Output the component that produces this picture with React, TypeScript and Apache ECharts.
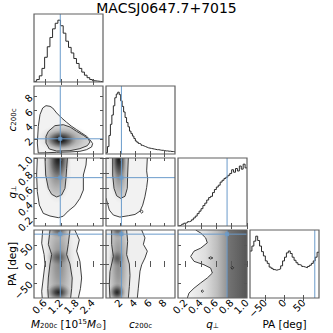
import React, { useEffect, useRef } from 'react';
import * as echarts from 'echarts';

const FONT = 'DejaVu Sans';
const TITLE = 'MACSJ0647.7+7015';

// parameter order: M200c, c200c, q_perp, PA
const AXIS_MIN = [0.18, 0, 0.1, -90];
const AXIS_MAX = [2.78, 9.4, 1.0, 90];
const TICKS = [
  [0.6, 1.2, 1.8, 2.4],
  [2, 4, 6, 8],
  [0.2, 0.4, 0.6, 0.8, 1.0],
  [-50, 0, 50],
];
const TRUTH = [1.17, 2.1, 0.74, 79];
const AXIS_NAMES = [
  '{i|M}{s|200c} [10{p|15}{i|M}{s|⊙}]',
  '{i|c}{s|200c}',
  '{i|q}{s|⊥}',
  'PA [deg]',
];

// 1D marginal histograms (relative counts, peak = 100)
const HIST_START = [0.18, 0, 0.1, -90];
const HIST_WIDTH = [0.1, 0.2, 0.025, 5];
const M_HIST = [1, 4, 10, 22, 40, 57, 72, 86, 95, 100, 91, 79, 66, 56, 47, 38, 30, 22, 16, 11, 7, 4, 2, 1.5, 1, 0.5];
const C_HIST = [2, 12, 30, 48, 63, 78, 91, 97, 100, 96, 86, 77, 68, 59, 51, 44, 37, 33, 29, 25, 21, 19, 17, 16, 14, 13, 12, 11, 10, 9.5, 9, 8.5, 8, 7.5, 7, 7, 6.5, 6, 6, 5.5, 5, 5, 4.5, 4.5, 4, 4, 3.5];
const Q_HIST = [0.5, 1.5, 3, 4.5, 5.5, 7, 8, 10, 13, 16, 20, 24, 28, 33, 37, 42, 46, 48, 54, 59, 63, 66, 71, 74, 77, 79, 82, 85, 91, 87, 93, 89, 97, 92, 100, 94];
const PA_HIST = [76, 84, 92, 100, 93, 84, 75, 68, 60, 56, 50, 48, 46, 45, 46, 47, 52, 60, 66, 73, 76, 72, 66, 61, 57, 54, 53, 51, 50, 49, 51, 53, 56, 60, 66, 74];
const HISTS = [M_HIST, C_HIST, Q_HIST, PA_HIST];

// 2D panels: contours [x, y]; blobs [cx, cy, rx, ry, darkness]
const MC_OUTER = [[0.34, 0.14], [0.305, 1.52], [0.343, 3.83], [0.406, 5.44], [0.507, 6.36], [0.632, 6.68], [0.783, 6.59], [0.883, 6.36], [1.034, 5.67], [1.222, 4.98], [1.41, 4.38], [1.598, 3.82], [1.787, 3.36], [1.975, 2.9], [2.163, 2.44], [2.29, 1.98], [2.39, 1.43], [2.35, 0.97], [2.16, 0.6], [1.91, 0.37], [1.535, 0.28], [1.03, 0.23], [0.59, 0.16]];
const MC_INNER = [[0.632, 2.44], [0.72, 3.13], [0.97, 3.92], [1.285, 4.05], [1.54, 3.73], [1.787, 3.13], [2.04, 2.58], [2.22, 2.12], [2.29, 1.66], [2.19, 1.15], [1.91, 0.74], [1.535, 0.46], [1.034, 0.41], [0.757, 0.69], [0.632, 1.52]];
const MC_BLOBS = [[1.3, 2.1, 1.0, 2.0, 0.4], [1.18, 1.95, 0.6, 1.35, 0.9]];

const MQ_OUTER = [[0.305, 1.0], [0.28, 0.775], [0.305, 0.554], [0.38, 0.378], [0.53, 0.267], [0.783, 0.232], [1.1, 0.21], [1.285, 0.23], [1.47, 0.298], [1.72, 0.369], [1.91, 0.466], [2.04, 0.576], [2.04, 0.775], [2.14, 0.907], [2.16, 1.0]];
const MQ_INNER = [[0.594, 1.0], [0.62, 0.775], [0.72, 0.598], [0.846, 0.519], [1.034, 0.484], [1.22, 0.51], [1.347, 0.598], [1.385, 0.73], [1.41, 0.863], [1.44, 1.0]];
const MQ_BLOBS = [[1.05, 0.85, 0.55, 0.45, 0.4], [1.1, 1.0, 0.45, 0.3, 0.85]];

const CQ_OUTER = [[0, 0.47], [0.45, 0.311], [1.0, 0.245], [1.9, 0.218], [3.04, 0.236], [3.95, 0.253], [4.63, 0.297], [5.0, 0.376], [5.3, 0.486], [5.54, 0.61], [5.68, 0.72], [5.54, 0.83], [5.63, 1.0]];
const CQ_INNER = [[0.91, 1.0], [0.91, 0.775], [1.09, 0.598], [1.45, 0.5], [2.0, 0.466], [2.59, 0.493], [2.9, 0.598], [2.95, 0.775], [3.04, 1.0]];
const CQ_ISLAND = [[4.65, 0.29], [4.86, 0.31], [5.07, 0.29], [4.86, 0.27]];
const CQ_BLOBS = [[1.8, 0.85, 1.4, 0.45, 0.4], [1.75, 1.0, 1.1, 0.3, 0.85]];

const MPA_OUTER_L = [[0.507, 90], [0.47, 55], [0.56, 25], [0.594, 0], [0.53, -37], [0.47, -72], [0.49, -90]];
const MPA_INNER_L = [[0.783, 90], [0.72, 52], [0.846, 25], [0.783, 0], [0.72, -37], [0.7, -65], [0.72, -90]];
const MPA_INNER_R = [[1.536, 90], [1.47, 52], [1.41, 25], [1.536, 0], [1.62, -37], [1.6, -65], [1.56, -90]];
const MPA_OUTER_R = [[1.72, 90], [1.887, 64], [1.787, 34], [1.91, 7], [1.975, -37], [1.93, -65], [1.85, -90]];
const MPA_BLOBS = [[1.12, 0, 0.6, 150, 0.35], [1.1, -75, 0.5, 24, 0.8], [1.1, 18, 0.45, 22, 0.4], [1.1, 90, 0.45, 22, 0.5]];

const CPA_INNER_L = [[0.77, 90], [0.77, 52], [1.0, 20], [0.54, -20], [0.45, -55], [0.54, -90]];
const CPA_INNER_R = [[2.81, 90], [2.95, 60], [2.81, 25], [3.18, 0], [3.27, -30], [3.18, -60], [3.04, -90]];
const CPA_OUTER_R = [[4.86, 90], [5.31, 69], [5.09, 52], [5.63, 34], [5.31, 16], [4.86, -2], [4.63, -19], [4.54, -37], [4.4, -64], [4.27, -90]];
const CPA_BLOBS = [[1.7, 0, 1.6, 150, 0.35], [1.5, -75, 1.2, 24, 0.8], [1.5, 15, 1.1, 22, 0.4], [1.6, 90, 1.2, 22, 0.5]];

const QPA_OUTER = [[0.33, 90], [0.396, 82], [0.461, 69], [0.482, 56], [0.396, 42], [0.309, 34], [0.265, 20], [0.309, 7], [0.439, -2], [0.526, -11], [0.548, -24], [0.482, -37], [0.396, -50], [0.309, -64], [0.243, -77], [0.222, -90]];
const QPA_LOOP_A = [[0.5, 16], [0.526, 19], [0.555, 16], [0.526, 13]];
const QPA_LOOP_B = [[0.79, -10], [0.808, -6], [0.826, -10], [0.808, -14]];
const QPA_LOOP_C = [[0.4, -72], [0.417, -69], [0.434, -72], [0.417, -75]];
const QPA_DARK = [[0.74, 90], [1.0, 90], [1.0, -90], [0.74, -90]];

// layout of the 4x4 corner grid (pixels)
const COL_LEFT = [34, 106, 178, 250];
const ROW_TOP = [14, 86, 158, 230];
const CELL_W = 69;
const CELL_H = 68;
const TRUTH_COLOR = '#6a9bcb';
const LINE_COLOR = '#2a2a2a';

const LABEL_FMT = [
  (v: number) => v.toFixed(1),
  (v: number) => String(v),
  (v: number) => v.toFixed(1),
  (v: number) => (v < 0 ? '\u2212' + Math.abs(v) : String(v)),
];

const rev = (a: number[][]) => a.slice().reverse();

const blobLayers = (blobs: number[][]) => blobs.map((b) => ({ kind: 'blob', b }));

const LAYERS: Record<string, any[]> = {
  '1-0': [
    { kind: 'fill', pts: MC_OUTER, fill: '#f2f2f2' },
    { kind: 'fill', pts: MC_INNER, fill: '#d6d6d6' },
    ...blobLayers(MC_BLOBS),
    { kind: 'line', pts: MC_OUTER, closed: true },
    { kind: 'line', pts: MC_INNER, closed: true },
  ],
  '2-0': [
    { kind: 'fill', pts: MQ_OUTER, fill: '#f2f2f2' },
    { kind: 'fill', pts: MQ_INNER, fill: '#d2d2d2' },
    ...blobLayers(MQ_BLOBS),
    { kind: 'line', pts: MQ_OUTER },
    { kind: 'line', pts: MQ_INNER },
  ],
  '2-1': [
    { kind: 'fill', pts: [[0, 1.0], ...CQ_OUTER], fill: '#f2f2f2' },
    { kind: 'fill', pts: CQ_INNER, fill: '#d2d2d2' },
    ...blobLayers(CQ_BLOBS),
    { kind: 'line', pts: CQ_OUTER },
    { kind: 'line', pts: CQ_INNER },
    { kind: 'line', pts: CQ_ISLAND, closed: true },
  ],
  '3-0': [
    { kind: 'fill', pts: [...MPA_OUTER_L, ...rev(MPA_OUTER_R)], fill: '#efefef' },
    { kind: 'fill', pts: [...MPA_INNER_L, ...rev(MPA_INNER_R)], fill: '#d4d4d4' },
    ...blobLayers(MPA_BLOBS),
    { kind: 'line', pts: MPA_OUTER_L },
    { kind: 'line', pts: MPA_INNER_L },
    { kind: 'line', pts: MPA_INNER_R },
    { kind: 'line', pts: MPA_OUTER_R },
  ],
  '3-1': [
    { kind: 'fill', pts: [[0, 90], [0, -90], ...rev(CPA_OUTER_R)], fill: '#efefef' },
    { kind: 'fill', pts: [...CPA_INNER_L, ...rev(CPA_INNER_R)], fill: '#d4d4d4' },
    ...blobLayers(CPA_BLOBS),
    { kind: 'line', pts: CPA_INNER_L },
    { kind: 'line', pts: CPA_INNER_R },
    { kind: 'line', pts: CPA_OUTER_R },
  ],
  '3-2': [
    {
      kind: 'fill',
      pts: [...QPA_OUTER, [1.0, -90], [1.0, 90]],
      fill: {
        type: 'linear', x: 0, y: 0, x2: 1, y2: 0,
        colorStops: [
          { offset: 0, color: '#f4f4f4' },
          { offset: 0.3, color: '#dedede' },
          { offset: 0.5, color: '#bdbdbd' },
          { offset: 0.64, color: '#9a9a9a' },
          { offset: 1, color: '#6e6e6e' },
        ],
      },
    },
    { kind: 'fill', pts: QPA_DARK, fill: 'rgba(0,0,0,0.22)' },
    { kind: 'line', pts: QPA_OUTER },
    { kind: 'line', pts: QPA_LOOP_A, closed: true },
    { kind: 'line', pts: QPA_LOOP_B, closed: true },
    { kind: 'line', pts: QPA_LOOP_C, closed: true },
  ],
};

function blobStops(a: number) {
  return [
    { offset: 0, color: `rgba(0,0,0,${a})` },
    { offset: 0.25, color: `rgba(0,0,0,${(a * 0.78).toFixed(3)})` },
    { offset: 0.55, color: `rgba(0,0,0,${(a * 0.38).toFixed(3)})` },
    { offset: 0.8, color: `rgba(0,0,0,${(a * 0.1).toFixed(3)})` },
    { offset: 1, color: 'rgba(0,0,0,0)' },
  ];
}

function makeRender(layers: any[]) {
  return (params: any, api: any) => {
    const L = layers[params.dataIndex];
    if (!L) return null;
    if (L.kind === 'fill') {
      const pts = L.pts.map((p: number[]) => api.coord(p));
      return { type: 'polygon', silent: true, shape: { points: pts }, style: { fill: L.fill, stroke: null } };
    }
    if (L.kind === 'line') {
      const pts = L.pts.map((p: number[]) => api.coord(p));
      return {
        type: L.closed ? 'polygon' : 'polyline',
        silent: true,
        shape: { points: pts },
        style: { fill: null, stroke: LINE_COLOR, lineWidth: 0.9 },
      };
    }
    const [cx, cy, rx, ry, a] = L.b;
    const c = api.coord([cx, cy]);
    const s = api.size([rx, ry]);
    return {
      type: 'circle',
      silent: true,
      x: c[0],
      y: c[1],
      scaleX: s[0] / 10,
      scaleY: s[1] / 10,
      shape: { cx: 0, cy: 0, r: 10 },
      style: { fill: { type: 'radial', x: 0.5, y: 0.5, r: 0.5, colorStops: blobStops(a) } },
    };
  };
}

const NAME_STYLE = {
  fontFamily: FONT,
  fontSize: 10.5,
  color: '#000',
  rich: {
    i: { fontFamily: FONT, fontSize: 10.5, fontStyle: 'italic', color: '#000' },
    s: { fontFamily: FONT, fontSize: 7, verticalAlign: 'bottom', color: '#000' },
    p: { fontFamily: FONT, fontSize: 7, verticalAlign: 'top', color: '#000' },
  },
};

function buildOption() {
  const grids: any[] = [];
  const xAxes: any[] = [];
  const yAxes: any[] = [];
  const series: any[] = [];
  const panels: { i: number; j: number }[] = [];
  for (let i = 0; i < 4; i++) for (let j = 0; j <= i; j++) panels.push({ i, j });

  const tick = (vals: number[]) => ({
    show: true, inside: true, length: 3, customValues: vals, lineStyle: { color: '#555', width: 1 },
  });

  panels.forEach(({ i, j }, g) => {
    const diag = i === j;
    grids.push({
      left: COL_LEFT[j], top: ROW_TOP[i], width: CELL_W, height: CELL_H,
      show: true, borderColor: '#606060', borderWidth: 1.2, backgroundColor: 'transparent',
      z: 10, containLabel: false, outerBoundsMode: 'none',
    });
    xAxes.push({
      type: 'value', gridIndex: g, position: 'bottom', min: AXIS_MIN[j], max: AXIS_MAX[j], z: 10,
      axisLine: { show: false }, splitLine: { show: false },
      axisTick: tick(TICKS[j]),
      axisLabel: {
        show: i === 3, customValues: TICKS[j], rotate: 45, margin: 3, fontSize: 10,
        color: '#000', fontFamily: FONT, formatter: LABEL_FMT[j],
      },
      name: i === 3 ? AXIS_NAMES[j] : '', nameLocation: 'middle', nameGap: 20, nameMoveOverlap: false,
      nameTextStyle: NAME_STYLE,
    });
    xAxes.push({
      type: 'value', gridIndex: g, position: 'top', min: AXIS_MIN[j], max: AXIS_MAX[j], z: 10,
      axisLine: { show: false }, splitLine: { show: false }, axisTick: tick(TICKS[j]), axisLabel: { show: false },
    });
    if (diag) {
      yAxes.push({ type: 'value', gridIndex: g, min: 0, max: 110, show: false });
      yAxes.push({ type: 'value', gridIndex: g, min: 0, max: 110, show: false, position: 'right' });
    } else {
      yAxes.push({
        type: 'value', gridIndex: g, position: 'left', min: AXIS_MIN[i], max: AXIS_MAX[i], z: 10,
        axisLine: { show: false }, splitLine: { show: false }, axisTick: tick(TICKS[i]),
        axisLabel: {
          show: j === 0, customValues: TICKS[i], rotate: 45, margin: 3, fontSize: 10,
          color: '#000', fontFamily: FONT, formatter: LABEL_FMT[i],
        },
        name: j === 0 ? AXIS_NAMES[i] : '', nameLocation: 'middle', nameGap: 17, nameRotate: 90,
        nameMoveOverlap: false, nameTextStyle: NAME_STYLE,
      });
      yAxes.push({
        type: 'value', gridIndex: g, position: 'right', min: AXIS_MIN[i], max: AXIS_MAX[i], z: 10,
        axisLine: { show: false }, splitLine: { show: false }, axisTick: tick(TICKS[i]), axisLabel: { show: false },
      });
    }
    const xi = 2 * g;
    const yi = 2 * g;
    if (diag) {
      const h = HISTS[j];
      const data: number[][] = [];
      h.forEach((v, k) => {
        const e0 = HIST_START[j] + k * HIST_WIDTH[j];
        data.push([e0, v], [e0 + HIST_WIDTH[j], v]);
      });
      series.push({
        type: 'line', xAxisIndex: xi, yAxisIndex: yi, data, showSymbol: false, symbol: 'none',
        lineStyle: { color: LINE_COLOR, width: 1 }, z: 3, silent: true,
      });
      series.push({
        type: 'line', xAxisIndex: xi, yAxisIndex: yi, data: [[TRUTH[j], 0], [TRUTH[j], 110]],
        symbol: 'none', lineStyle: { color: TRUTH_COLOR, width: 1 }, z: 4, silent: true,
      });
    } else {
      const layers = LAYERS[`${i}-${j}`];
      series.push({
        type: 'custom', coordinateSystem: 'cartesian2d', xAxisIndex: xi, yAxisIndex: yi, clip: true,
        data: layers.map((_, k) => [k]), renderItem: makeRender(layers), z: 2, silent: true,
      });
      series.push({
        type: 'line', xAxisIndex: xi, yAxisIndex: yi,
        data: [[TRUTH[j], AXIS_MIN[i]], [TRUTH[j], AXIS_MAX[i]]],
        symbol: 'none', lineStyle: { color: TRUTH_COLOR, width: 1 }, z: 4, silent: true,
      });
      series.push({
        type: 'line', xAxisIndex: xi, yAxisIndex: yi,
        data: [[AXIS_MIN[j], TRUTH[i]], [AXIS_MAX[j], TRUTH[i]]],
        symbol: 'none', lineStyle: { color: TRUTH_COLOR, width: 1 }, z: 4, silent: true,
      });
      series.push({
        type: 'scatter', xAxisIndex: xi, yAxisIndex: yi, data: [[TRUTH[j], TRUTH[i]]],
        symbol: 'rect', symbolSize: 4, itemStyle: { color: TRUTH_COLOR }, z: 5, silent: true,
      });
    }
  });

  return {
    animation: false,
    backgroundColor: '#ffffff',
    textStyle: { fontFamily: FONT },
    title: {
      text: TITLE, left: 'center', top: 1, padding: 0,
      textStyle: { fontSize: 14, fontWeight: 'normal', fontFamily: FONT, color: '#000' },
    },
    grid: grids,
    xAxis: xAxes,
    yAxis: yAxes,
    series,
  };
}

export default function App() {
  const ref = useRef<HTMLDivElement>(null);
  useEffect(() => {
    if (!ref.current) return;
    const chart = echarts.init(ref.current, undefined, { renderer: 'svg' });
    chart.setOption(buildOption() as any);
    return () => chart.dispose();
  }, []);
  return (
    <div
      ref={ref}
      style={{ position: 'absolute', left: 0, top: 0, width: 333, height: 333, background: '#fff' }}
    />
  );
}
